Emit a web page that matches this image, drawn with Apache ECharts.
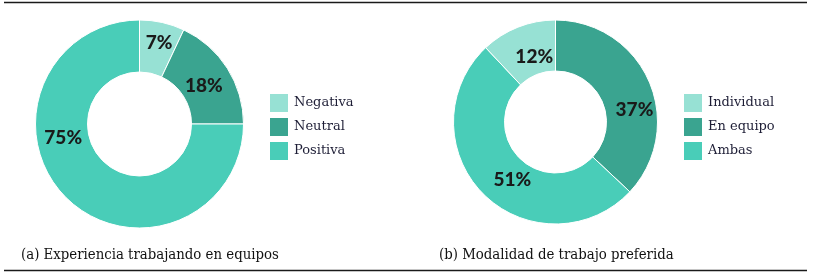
<!DOCTYPE html>
<html>
<head>
<meta charset="utf-8">
<script src="https://cdn.jsdelivr.net/npm/echarts@6/dist/echarts.min.js"></script>
<style>
  html, body { margin: 0; padding: 0; background: #fff; }
  #chart { width: 815px; height: 275px; }
</style>
</head>
<body>
<div id="chart"></div>
<script>
// chart (a)
const namesA = ['Negativa', 'Neutral', 'Positiva'];
const valuesA = [7, 18, 75];
// chart (b), slices in clockwise order from the top
const namesB = ['En equipo', 'Ambas', 'Individual'];
const valuesB = [37, 51, 12];
const legendB = ['Individual', 'En equipo', 'Ambas'];
const captions = ['(a) Experiencia trabajando en equipos', '(b) Modalidad de trabajo preferida'];

const colors = {
    'Negativa': '#97e1d4', 'Neutral': '#3aa490', 'Positiva': '#49cdb8',
    'Individual': '#97e1d4', 'En equipo': '#3aa490', 'Ambas': '#49cdb8'
};

// label nudges (px) per slice
const nudgeA = [[2, -2], [-4, 5], [-19, -43]];
const nudgeB = [[6, 19], [13, 2], [8, 9]];

function pieData(names, values) {
    return names.map(function(n, i) {
        return { name: n, value: values[i], itemStyle: { color: colors[n] } };
    });
}

function labelNudge(nudge) {
    return function(params) {
        var d = nudge[params.dataIndex];
        return { dx: d[0], dy: d[1] };
    };
}

var myChart = echarts.init(document.getElementById('chart'));

var legendText = {
    fontFamily: 'DejaVu Serif',
    fontSize: 13,
    color: '#1e1e36'
};

var captionText = {
    fontFamily: 'DejaVu Serif Condensed',
    fontWeight: 'normal',
    fontSize: 14.8,
    color: '#111'
};

var pieLabel = {
    show: true,
    position: 'inside',
    formatter: '{c}%',
    fontFamily: 'Lato',
    fontWeight: 900,
    fontSize: 19,
    color: '#1a1a1a'
};

option = {
    animation: false,
    title: [{
        text: captions[0],
        left: 21,
        top: 248,
        padding: 0,
        textStyle: captionText
    }, {
        text: captions[1],
        left: 439,
        top: 248,
        padding: 0,
        textStyle: captionText
    }],
    legend: [{
        orient: 'vertical',
        left: 268,
        top: 92,
        padding: 0,
        itemWidth: 20,
        itemHeight: 20,
        itemGap: 2,
        icon: 'rect',
        data: namesA,
        textStyle: legendText,
        selectedMode: false
    }, {
        orient: 'vertical',
        left: 682,
        top: 92,
        padding: 0,
        itemWidth: 20,
        itemHeight: 20,
        itemGap: 2,
        icon: 'rect',
        data: legendB,
        textStyle: legendText,
        selectedMode: false
    }],
    graphic: [
        { type: 'line', shape: { x1: 4, y1: 2.5, x2: 807, y2: 2.5 }, style: { stroke: '#1a1a1a', lineWidth: 1.5 } },
        { type: 'line', shape: { x1: 4, y1: 270.5, x2: 807, y2: 270.5 }, style: { stroke: '#1a1a1a', lineWidth: 1.5 } }
    ],
    series: [{
        name: 'Experiencia',
        type: 'pie',
        center: [139.5, 124],
        radius: [52, 104],
        startAngle: 90,
        clockwise: true,
        silent: true,
        itemStyle: { borderColor: '#fff', borderWidth: 1 },
        label: pieLabel,
        labelLine: { show: false },
        labelLayout: labelNudge(nudgeA),
        data: pieData(namesA, valuesA)
    }, {
        name: 'Modalidad',
        type: 'pie',
        center: [555.5, 122],
        radius: [51, 102],
        startAngle: 90,
        clockwise: true,
        silent: true,
        itemStyle: { borderColor: '#fff', borderWidth: 1 },
        label: pieLabel,
        labelLine: { show: false },
        labelLayout: labelNudge(nudgeB),
        data: pieData(namesB, valuesB)
    }]
};

myChart.setOption(option);
window.addEventListener('resize', function() { myChart.resize(); });
</script>
</body>
</html>
